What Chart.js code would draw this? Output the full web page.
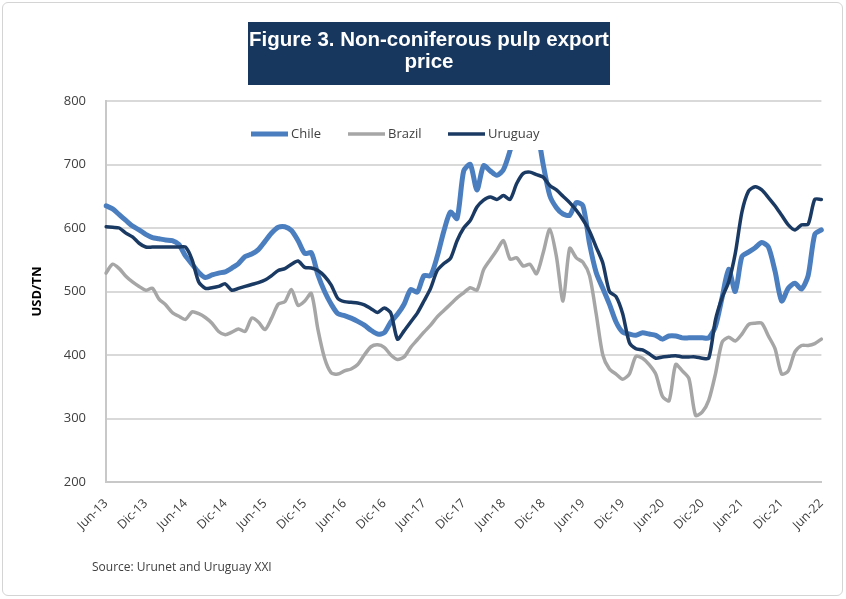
<!DOCTYPE html>
<html>
<head>
<meta charset="utf-8">
<script src="https://cdn.jsdelivr.net/npm/chart.js@4.4.1/dist/chart.umd.min.js"></script>
<style>
  html, body { margin: 0; padding: 0; background: #fff; }
  #wrap { position: relative; width: 846px; height: 599px; overflow: hidden; }
  #frame { position: absolute; left: 2px; top: 2px; width: 841px; height: 594px; border: 1px solid #d4d4d4; border-radius: 6px; box-sizing: border-box; }
  #chart { position: absolute; left: 0; top: 0; }
  #title { position: absolute; left: 248px; top: 22px; width: 362px; height: 63px; box-sizing: border-box; padding-top: 6px;
           background: #17375e; color: #fff; font: bold 20.5px "Liberation Sans", Arial, sans-serif; line-height: 22px; text-align: center; letter-spacing: 0px; white-space: nowrap; }
  #source { position: absolute; left: 92px; top: 558px; font: 12px "Open Sans", sans-serif; color: #404040; }
</style>
</head>
<body>
<div id="wrap">
  <div id="frame"></div>
  <canvas id="chart" width="846" height="599"></canvas>
  <div id="title">Figure 3. Non-coniferous pulp export<br>price</div>
  <div id="source">Source: Urunet and Uruguay XXI</div>
</div>
<script>
// ---- data (monthly, Jun-13 .. Jun-22) ----
const monthNames = ['Ene','Feb','Mar','Abr','May','Jun','Jul','Ago','Sep','Oct','Nov','Dic'];
const startYear = 2013, startMonth = 5, monthCount = 109;
const categories = [];
for (let i = 0; i < monthCount; i++) {
  const m = (startMonth + i) % 12;
  const y = startYear + Math.floor((startMonth + i) / 12);
  categories.push(monthNames[m] + '-' + String(y % 100).padStart(2, '0'));
}
const tickLabels = ['Jun-13','Dic-13','Jun-14','Dic-14','Jun-15','Dic-15','Jun-16','Dic-16','Jun-17','Dic-17',
                    'Jun-18','Dic-18','Jun-19','Dic-19','Jun-20','Dic-20','Jun-21','Dic-21','Jun-22'];
const yTicks = [200, 300, 400, 500, 600, 700, 800];

const chile = [635,630,621,612,603,597,590,585,583,581,580,574,556,543,530,522,526,529,531,537,
               544,555,559,566,579,592,601,602,596,580,560,561,526,500,480,465,462,458,453,447,
               439,433,435,452,464,480,503,499,525,525,555,595,625,615,690,700,660,698,690,683,
               692,722,760,785,790,760,700,651,632,622,620,640,635,575,530,505,480,452,436,433,
               431,435,433,431,425,430,430,427,427,427,427,427,445,490,535,500,555,562,569,577,
               570,532,485,505,513,504,525,590,597];
const brazil = [529,543,536,524,515,508,502,505,488,479,467,461,456,468,465,459,450,437,432,436,
                441,437,458,452,440,458,480,484,503,478,485,497,440,395,372,370,375,378,385,400,
                413,416,412,400,393,397,412,424,436,447,460,470,480,490,498,506,502,534,550,565,
                580,551,553,540,543,528,561,598,555,485,568,553,546,525,465,400,378,370,362,370,
                398,395,385,370,335,328,385,375,363,305,310,329,370,420,428,422,433,448,450,450,
                430,410,370,375,405,415,415,418,425];
const uruguay = [602,601,600,592,586,576,570,570,570,570,570,570,570,550,515,505,506,508,512,502,
                 505,508,511,514,518,525,533,536,543,548,538,537,533,524,510,489,484,483,482,479,
                 473,467,474,466,425,438,452,466,485,505,533,544,552,580,600,612,633,644,649,645,
                 651,645,670,686,688,684,680,667,660,650,640,628,613,595,570,545,500,492,465,420,
                 410,408,402,395,397,398,399,397,397,397,395,395,455,490,515,560,625,658,665,660,
                 648,635,620,605,597,605,606,645,645];

const seriesNames = ['Chile', 'Brazil', 'Uruguay'];
const seriesColors = ['#4a7ebf', '#a6a6a6', '#1b3a63'];
const seriesWidths = [5, 3.5, 3.5];

// ---- legend drawn inside the plot on a white box ----
const boxLegend = {
  id: 'boxLegend',
  afterDatasetsDraw(chart) {
    const ctx = chart.ctx;
    ctx.save();
    ctx.fillStyle = '#ffffff';
    ctx.fillRect(236, 104, 326, 46);
    const starts = [251, 348, 448];
    const yMid = 134;
    ctx.font = '13px "Open Sans", sans-serif';
    ctx.textBaseline = 'middle';
    ctx.textAlign = 'left';
    seriesNames.forEach((name, i) => {
      ctx.strokeStyle = seriesColors[i];
      ctx.lineWidth = seriesWidths[i];
      ctx.lineCap = 'butt';
      ctx.beginPath();
      ctx.moveTo(starts[i], yMid);
      ctx.lineTo(starts[i] + 37, yMid);
      ctx.stroke();
      ctx.fillStyle = '#404040';
      ctx.fillText(name, starts[i] + 40, yMid);
    });
    ctx.restore();
  }
};

const dataArrays = [chile, brazil, uruguay];
const orders = [1, 2, 0];

new Chart(document.getElementById('chart'), {
  type: 'line',
  data: {
    labels: categories,
    datasets: seriesNames.map((name, i) => ({
      label: name,
      data: dataArrays[i],
      borderColor: seriesColors[i],
      backgroundColor: seriesColors[i],
      borderWidth: seriesWidths[i],
      pointRadius: 0,
      tension: 0.25,
      fill: false,
      order: orders[i],
      borderJoinStyle: 'round',
      borderCapStyle: 'round'
    }))
  },
  options: {
    responsive: false,
    animation: false,
    devicePixelRatio: 1,
    layout: { padding: { top: 101, right: 20, bottom: 0, left: 0 } },
    plugins: {
      legend: { display: false },
      tooltip: { enabled: false },
      title: { display: false }
    },
    scales: {
      x: {
        type: 'category',
        offset: false,
        afterFit(scale) { scale.height = 117; },
        grid: { display: true, drawOnChartArea: false, drawTicks: false, color: 'rgba(0,0,0,0)' },
        border: { display: true, color: '#c8c8c8', width: 2 },
        ticks: {
          autoSkip: false,
          minRotation: 45,
          maxRotation: 45,
          padding: 14,
          color: '#404040',
          font: { family: '"Open Sans", sans-serif', size: 12.5 },
          callback(value, index) {
            return index % 6 === 0 ? tickLabels[index / 6] : '';
          }
        }
      },
      y: {
        min: yTicks[0],
        max: yTicks[yTicks.length - 1],
        afterFit(scale) { scale.width = 106; },
        afterBuildTicks(scale) { scale.ticks = yTicks.map(v => ({ value: v })); },
        grid: { color: '#d9d9d9', lineWidth: 2, drawTicks: false },
        border: { display: true, color: '#c8c8c8', width: 2 },
        ticks: {
          padding: 20,
          color: '#404040',
          font: { family: '"Open Sans", sans-serif', size: 13 }
        },
        title: {
          display: true,
          text: 'USD/TN',
          color: '#000',
          font: { family: '"Open Sans", sans-serif', size: 13, weight: 'bold' },
          padding: { top: 29, bottom: 0 }
        }
      }
    }
  },
  plugins: [boxLegend]
});
</script>
</body>
</html>
